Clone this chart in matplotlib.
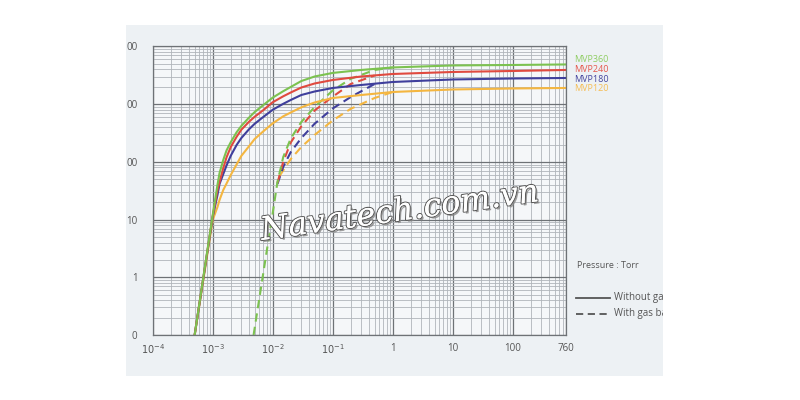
import numpy as np
import matplotlib
matplotlib.use('Agg')
import matplotlib.pyplot as plt
import matplotlib.patheffects as pe
from matplotlib.patches import Rectangle
from matplotlib.ticker import FixedLocator, LogLocator, NullFormatter

plt.rcParams['font.family'] = ['Open Sans', 'DejaVu Sans']

# pressure (Torr) for the curves without gas ballast
p_solid = [0.0005, 0.001, 0.0012, 0.0013, 0.0015, 0.0017, 0.002, 0.0025, 0.003,
           0.004, 0.005, 0.007, 0.01, 0.015, 0.02, 0.03, 0.05, 0.1, 0.3, 1,
           10, 100, 760]
mvp360 = [0.1, 12, 40, 64.3, 108, 158, 220, 326, 420, 581, 730, 968, 1300,
          1680, 1990, 2520, 3020, 3480, 3920, 4330, 4690, 4780, 4880]
mvp240 = [0.1, 11.5, 32.6, 44.9, 78, 120, 181, 272, 361, 493, 605, 791, 1080,
          1371, 1595, 1946, 2285, 2626, 3020, 3337, 3614, 3762, 3917]
mvp180 = [0.1, 11.1, 26.7, 41.4, 61.7, 86.7, 128, 196, 259, 365, 457, 603, 800,
          1016, 1183, 1443, 1660, 1909, 2153, 2425, 2680, 2788, 2844]
mvp120 = [0.1, 9.85, 16.5, 21.9, 32.6, 42.1, 59.3, 90.2, 127, 185, 249, 340, 465,
          617, 718, 883, 1070, 1280, 1443, 1626, 1798, 1871, 1909]

# with gas ballast
p360_gb = [0.0048, 0.01, 0.012, 0.015, 0.02, 0.03, 0.05, 0.1, 0.2, 0.5, 1]
mvp360_gb = [0.1, 13, 44.8, 122, 255, 492, 894, 1726, 2754, 3917, 4325]
p_gb = [0.012, 0.015, 0.02, 0.03, 0.05, 0.1, 0.2, 0.5]
mvp240_gb = [43.1, 101, 217, 414, 778, 1349, 2239, 3143]
mvp180_gb = [41.4, 82.2, 148, 259, 459, 842, 1333, 2239]
p120_gb = [0.013, 0.02, 0.03, 0.05, 0.1, 0.2, 0.5, 1]
mvp120_gb = [57, 112, 181, 293, 522, 832, 1280, 1626]

names = ['MVP360', 'MVP240', 'MVP180', 'MVP120']
colors = ['#7cc250', '#e04a3f', '#3f3f9c', '#f4b640']
label_colors = ['#8fcd63', '#e5574c', '#45459e', '#f5bd55']

xticks = [1e-4, 1e-3, 1e-2, 1e-1, 1, 10, 100, 760]
xlabels = ['$10^{-4}$', '$10^{-3}$', '$10^{-2}$', '$10^{-1}$', '1', '10', '100', '760']
yticks = [0.1, 1, 10, 100, 1000, 10000]
ylabels = ['0', '1', '10', '00', '00', '00']

fig = plt.figure(figsize=(8, 4), dpi=100)
bg = Rectangle((0.157, 0.06), 0.672, 0.8775, transform=fig.transFigure,
               facecolor='#edf1f4', edgecolor='none', zorder=-1)
fig.patches.append(bg)

ax = fig.add_axes([0.1909, 0.1625, 0.516, 0.7213])
ax.set_zorder(1)
ax.set_facecolor('#f5f7f9')
ax.set_xscale('log')
ax.set_yscale('log')
ax.set_xlim(1e-4, 760)
ax.set_ylim(0.1, 10000)

ax.xaxis.set_major_locator(FixedLocator(xticks))
ax.set_xticklabels(xlabels)
ax.xaxis.set_minor_locator(LogLocator(base=10, subs=np.arange(2, 10), numticks=20))
ax.xaxis.set_minor_formatter(NullFormatter())
ax.yaxis.set_major_locator(FixedLocator(yticks))
ax.set_yticklabels(ylabels)
ax.yaxis.set_minor_locator(LogLocator(base=10, subs=np.arange(2, 10), numticks=20))
ax.yaxis.set_minor_formatter(NullFormatter())

ax.grid(which='major', color='#6e7276', linewidth=0.9)
ax.grid(which='minor', color='#b0b5ba', linewidth=0.6)
ax.set_axisbelow(True)
ax.tick_params(which='both', length=0)
ax.tick_params(axis='x', pad=6, labelsize=7, labelcolor='#555555')
ax.tick_params(axis='y', pad=11, labelsize=7, labelcolor='#555555')
for s in ax.spines.values():
    s.set_color('#6e7276')
    s.set_linewidth(0.9)

# dashed first, then solid with green on top
dash = (0, (4, 2.5))
ax.plot(p120_gb, mvp120_gb, color=colors[3], linewidth=1.5, linestyle=dash)
ax.plot(p_gb, mvp180_gb, color=colors[2], linewidth=1.5, linestyle=dash)
ax.plot(p_gb, mvp240_gb, color=colors[1], linewidth=1.5, linestyle=dash)
ax.plot(p360_gb, mvp360_gb, color=colors[0], linewidth=1.5, linestyle=dash)

solid = [mvp360, mvp240, mvp180, mvp120]
for ys, c in list(zip(solid, colors))[::-1]:
    ax.plot(p_solid, ys, color=c, linewidth=1.5)

# series names on the right
ypos = [60, 69.5, 79, 88.5]
for n, c, yp in zip(names, label_colors, ypos):
    fig.text(574 / 800, 1 - yp / 400, n, color=c, fontsize=6.5, va='center', ha='left')

fig.text(577 / 800, 1 - 266 / 400, 'Pressure : Torr', color='#555555', fontsize=6.5,
         va='center', ha='left')
fig.add_artist(plt.Line2D([576 / 800, 610 / 800], [1 - 297.5 / 400] * 2,
                          color='#555555', linewidth=1.3, transform=fig.transFigure))
fig.add_artist(plt.Line2D([576 / 800, 610 / 800], [1 - 313.5 / 400] * 2,
                          color='#555555', linewidth=1.3, linestyle=dash,
                          transform=fig.transFigure))
t1 = fig.text(614 / 800, 1 - 297.5 / 400, 'Without gas ballast', color='#555555',
              fontsize=7, va='center', ha='left')
t2 = fig.text(614 / 800, 1 - 313.5 / 400, 'With gas ballast', color='#555555',
              fontsize=7, va='center', ha='left')
for t in (t1, t2):
    t.set_clip_path(bg)
    t.set_clip_on(True)

# watermark
wm = fig.text(400 / 800, 1 - 212 / 400, 'Navatech.com.vn', fontsize=23,
              family='DejaVu Serif', style='italic', color='white',
              ha='center', va='center', rotation=8, zorder=10)
wm.set_path_effects([pe.withSimplePatchShadow(offset=(1.5, -1.5), shadow_rgbFace='#888888', alpha=0.8),
                     pe.withStroke(linewidth=1.6, foreground='#5a5a5a'),
                     pe.Normal()])

fig.savefig('out.png', dpi=100, facecolor='white')
